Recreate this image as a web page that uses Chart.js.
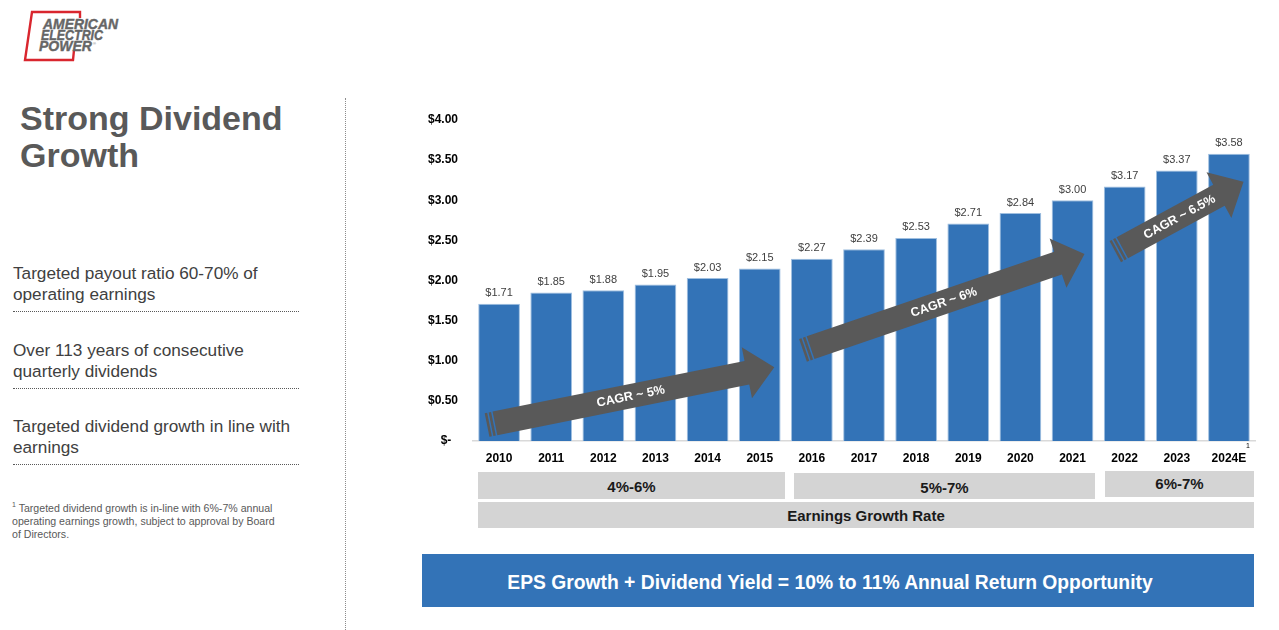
<!DOCTYPE html>
<html>
<head>
<meta charset="utf-8">
<script src="https://cdn.jsdelivr.net/npm/chart.js@4.4.1/dist/chart.umd.min.js"></script>
<style>
  body { margin: 0; background: #fff; font-family: Arial, "Liberation Sans", sans-serif; }
  #page { position: relative; width: 1279px; height: 630px; overflow: hidden; }
  .abs { position: absolute; }
  #title { left: 20px; top: 100px; font-size: 34px; font-weight: bold; color: #595959; line-height: 37px; }
  .bullet { left: 13px; width: 286px; font-size: 17.2px; color: #404040; line-height: 20.5px;
            border-bottom: 1.5px dotted #595959; padding-bottom: 7px; }
  #note { left: 12px; top: 498px; width: 268px; font-size: 10.6px; color: #595959; line-height: 13px; }
  #vline { left: 345px; top: 98px; height: 532px; border-left: 1.5px dotted #8c8c8c; }
  .box { background: #d4d4d4; text-align: center; font-family: "Liberation Sans Narrow", "Arial Narrow", Arial, sans-serif;
         font-weight: bold; font-size: 15px; color: #1a1a1a; }
  #banner { left: 422px; top: 554px; width: 816px; padding-right: 16px; height: 53px; background: #3373b7; color: #fff;
            font-weight: bold; font-size: 19.3px; line-height: 58px; text-align: center; }
  #wrap { left: 400px; top: 100px; width: 870px; height: 370px; }
</style>
</head>
<body>
<div id="page">
  <svg class="abs" style="left:0;top:0" width="160" height="70">
    <g fill="none" stroke="#d9262e" stroke-width="2.4">
      <polyline points="80,18 80,12 32,12 25,60 73,60 74,50"/>
    </g>
    <g font-family="Arial, sans-serif" font-weight="900" font-style="italic" font-size="14" fill="#666" stroke="#666" stroke-width="0.4">
      <text x="43" y="29" textLength="75" lengthAdjust="spacingAndGlyphs">AMERICAN</text>
      <text x="41" y="40" textLength="62" lengthAdjust="spacingAndGlyphs">ELECTRIC</text>
      <text x="39" y="51" textLength="53" lengthAdjust="spacingAndGlyphs">POWER</text>
    </g>
    <text x="93" y="45" font-family="Arial" font-size="4" fill="#6d6d6d">®</text>
  </svg>

  <div id="title" class="abs">Strong Dividend<br>Growth</div>

  <div class="abs bullet" style="top:263px">Targeted payout ratio 60-70% of<br>operating earnings</div>
  <div class="abs bullet" style="top:340px">Over 113 years of consecutive<br>quarterly dividends</div>
  <div class="abs bullet" style="top:416px">Targeted dividend growth in line with<br>earnings</div>

  <div id="note" class="abs"><sup style="font-size:7px">1</sup> Targeted dividend growth is in-line with 6%-7% annual operating earnings growth, subject to approval by Board of Directors.</div>

  <div id="vline" class="abs"></div>

  <div id="wrap" class="abs"><canvas id="chartDividend" width="870" height="370"></canvas></div>

  <div class="abs box" style="left:478px;top:472px;width:307px;height:27px;line-height:29px">4%-6%</div>
  <div class="abs box" style="left:794px;top:473px;width:301px;height:26px;line-height:29px">5%-7%</div>
  <div class="abs box" style="left:1105px;top:471px;width:149px;height:26px;line-height:26px">6%-7%</div>
  <div class="abs box" style="left:478px;top:502px;width:776px;height:26px;line-height:28px">Earnings Growth Rate</div>

  <div id="banner" class="abs">EPS Growth + Dividend Yield = 10% to 11% Annual Return Opportunity</div>
</div>

<script>
// annual dividend per share
const years = ['2010', '2011', '2012', '2013', '2014', '2015', '2016', '2017', '2018', '2019', '2020', '2021', '2022', '2023', '2024E'];
const dividends = [1.71, 1.85, 1.88, 1.95, 2.03, 2.15, 2.27, 2.39, 2.53, 2.71, 2.84, 3.00, 3.17, 3.37, 3.58];
const yTicks = [0, 0.5, 1, 1.5, 2, 2.5, 3, 3.5, 4];

// CAGR arrows, tail and tip in data units (category index, $)
const cagrLabels = ['CAGR ~ 5%', 'CAGR ~ 6%', 'CAGR ~ 6.5%'];
const cagrFrom = [[-0.23, 0.20], [5.83, 1.13], [11.82, 2.36]];
const cagrTo = [[5.28, 0.92], [11.23, 2.33], [14.28, 3.23]];

const money = v => v === 0 ? '$-  ' : '$' + v.toFixed(2);

// labels above bars + superscript on 2024E
const barLabels = {
  id: 'barLabels',
  afterDatasetsDraw(chart) {
    const ctx = chart.ctx;
    const meta = chart.getDatasetMeta(0);
    ctx.save();
    ctx.font = '11px Arial';
    ctx.fillStyle = '#404040';
    ctx.textAlign = 'center';
    ctx.textBaseline = 'bottom';
    meta.data.forEach((bar, i) => {
      ctx.fillText(money(dividends[i]), bar.x, bar.y - 5);
    });
    const xs = chart.scales.x;
    ctx.font = '7px Arial';
    ctx.fillStyle = '#000';
    ctx.textAlign = 'left';
    ctx.fillText('1', xs.getPixelForValue(years.length - 1) + 17, chart.chartArea.bottom + 9);
    ctx.restore();
  }
};

// grey block arrows drawn on top of the bars
const cagrArrows = {
  id: 'cagrArrows',
  afterDatasetsDraw(chart) {
    const ctx = chart.ctx;
    const xs = chart.scales.x, ys = chart.scales.y;
    cagrLabels.forEach((label, i) => {
      const x0 = xs.getPixelForValue(cagrFrom[i][0]), y0 = ys.getPixelForValue(cagrFrom[i][1]);
      const x1 = xs.getPixelForValue(cagrTo[i][0]), y1 = ys.getPixelForValue(cagrTo[i][1]);
      const len = Math.hypot(x1 - x0, y1 - y0);
      const ang = Math.atan2(y1 - y0, x1 - x0);
      const hw = 12, headW = 26, headL = 28;
      ctx.save();
      ctx.translate(x0, y0);
      ctx.rotate(ang);
      ctx.fillStyle = '#595959';
      // striped tail
      ctx.fillRect(0, -hw, 2.5, hw * 2);
      ctx.fillRect(4, -hw, 2.5, hw * 2);
      ctx.beginPath();
      ctx.moveTo(8, -hw);
      ctx.lineTo(len - headL, -hw);
      ctx.lineTo(len - headL, -headW);
      ctx.lineTo(len, 0);
      ctx.lineTo(len - headL, headW);
      ctx.lineTo(len - headL, hw);
      ctx.lineTo(8, hw);
      ctx.closePath();
      ctx.fill();
      ctx.fillStyle = '#fff';
      ctx.font = 'bold 12.5px Arial';
      ctx.textAlign = 'center';
      ctx.textBaseline = 'middle';
      ctx.fillText(label, len * 0.5, 0.5);
      ctx.restore();
    });
  }
};

const chart1 = document.getElementById('chartDividend').getContext('2d');
const chartDividend = new Chart(chart1, {
  type: 'bar',
  data: {
    labels: years,
    datasets: [{
      data: dividends,
      backgroundColor: '#3373b7',
      borderColor: '#9fbfe0',
      borderWidth: 1,
      categoryPercentage: 1,
      barPercentage: 0.8
    }]
  },
  options: {
    responsive: false,
    animation: false,
    layout: { padding: { top: 20, right: 15, left: 0, bottom: 0 } },
    plugins: { legend: { display: false }, tooltip: { enabled: false } },
    scales: {
      x: {
        grid: { display: false },
        border: { display: true, color: '#d9d9d9', width: 1.5 },
        ticks: { color: '#000', font: { family: 'Arial', weight: 'bold', size: 12 }, padding: 2, maxRotation: 0, autoSkip: false },
        afterFit: s => { s.height = 29; }
      },
      y: {
        min: 0, max: 4,
        afterBuildTicks: s => { s.ticks = yTicks.map(v => ({ value: v })); },
        grid: { display: false },
        border: { display: false },
        ticks: { color: '#000', font: { family: 'Arial', weight: 'bold', size: 12 }, padding: 7, callback: money },
        afterFit: s => { s.width = 73; }
      }
    }
  },
  plugins: [barLabels, cagrArrows]
});
</script>
</body>
</html>
